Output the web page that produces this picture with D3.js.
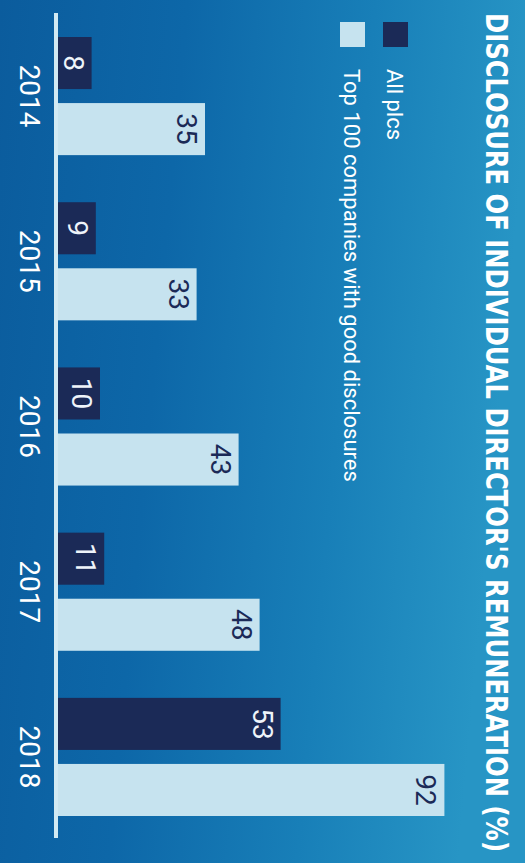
<!DOCTYPE html>
<html><head><meta charset="utf-8">
<script src="https://cdn.jsdelivr.net/npm/d3@7"></script>
<style>html,body{margin:0;padding:0;background:#0d66a6;} svg{display:block}</style>
</head><body>
<svg id="c" width="525" height="863"></svg>
<script>
const titleText = "DISCLOSURE OF INDIVIDUAL DIRECTOR'S REMUNERATION (%)";
const years = ["2014", "2015", "2016", "2017", "2018"];
const seriesNames = ["All plcs", "Top 100 companies with good disclosures"];
const allPlcs = [8, 9, 10, 11, 53];
const top100 = [35, 33, 43, 48, 92];
const valueDomain = [0, 100];

const seriesColors = ["#1b2a57", "#c6e3ef"];
const labelColors = ["#eef4fa", "#1b2a57"];

const rows = years.map((yr, i) => ({year: yr, values: [allPlcs[i], top100[i]]}));

const svg = d3.select("#c");
const defs = svg.append("defs");
const lg = defs.append("linearGradient").attr("id", "bg").attr("x1", 0).attr("y1", 0).attr("x2", 1).attr("y2", 0.15);
[[0, "#0b5c9d"], [0.35, "#0d67a8"], [0.7, "#187fb8"], [1, "#2795c5"]].forEach(([o, c]) =>
  lg.append("stop").attr("offset", o).attr("stop-color", c));
svg.append("rect").attr("width", 525).attr("height", 863).attr("fill", "url(#bg)");

// chart drawn unrotated (863 wide x 525 tall), then rotated 90deg clockwise
const g = svg.append("g").attr("transform", "translate(525,0) rotate(90)");

const x0 = d3.scaleBand().domain(years).range([37, 816]).paddingInner(0.285).paddingOuter(0);
const x1 = d3.scaleBand().domain(seriesNames).range([0, x0.bandwidth()]).paddingInner(0.212);
const y = d3.scaleLinear().domain(valueDomain).range([467, 47]);

// title
g.append("text")
  .attr("transform", "translate(13,39) scale(1,1.12)")
  .style("font-family", "'DejaVu Sans Condensed','Liberation Sans Narrow',sans-serif")
  .style("font-stretch", "condensed")
  .style("font-weight", "bold").style("font-size", "27px")
  .attr("fill", "#ffffff").text(titleText);

// legend
const leg = g.append("g");
seriesNames.forEach((name, i) => {
  const by = [142, 185][i];
  leg.append("rect").attr("x", 22).attr("y", by - 25).attr("width", 25).attr("height", 25)
    .attr("fill", seriesColors[i]);
  leg.append("text").attr("x", 69).attr("y", by - 4)
    .style("font-family", "Roboto, 'Open Sans', sans-serif").style("font-size", "22px")
    .attr("fill", "#ffffff").text(name);
});

// bars
const groups = g.selectAll("g.grp").data(rows).join("g")
  .attr("class", "grp").attr("transform", d => `translate(${x0(d.year)},0)`);
groups.selectAll("rect").data(d => d.values.map((v, i) => ({v, i})))
  .join("rect")
  .attr("x", d => x1(seriesNames[d.i])).attr("width", x1.bandwidth())
  .attr("y", d => y(d.v)).attr("height", d => y(0) - y(d.v))
  .attr("fill", d => seriesColors[d.i]);
groups.selectAll("text.val").data(d => d.values.map((v, i) => ({v, i})))
  .join("text").attr("class", "val")
  .attr("x", d => x1(seriesNames[d.i]) + x1.bandwidth() / 2)
  .attr("y", d => y(d.v) + 28)
  .attr("text-anchor", "middle")
  .style("font-family", "Roboto, 'Open Sans', sans-serif").style("font-size", "28px")
  .attr("fill", d => labelColors[d.i]).text(d => d.v);

// axis line
g.append("line").attr("x1", 13).attr("x2", 838).attr("y1", 469).attr("y2", 469)
  .attr("stroke", "#d2eaf3").attr("stroke-width", 4);

// year axis
const ax = g.append("g").attr("transform", "translate(0,469)")
  .call(d3.axisBottom(x0).tickSize(0));
ax.select(".domain").remove();
ax.selectAll("text").attr("y", 36).attr("dy", 0)
  .style("font-family", "Roboto, 'Open Sans', sans-serif").style("font-size", "28px")
  .attr("fill", "#ffffff");
</script>
</body></html>
